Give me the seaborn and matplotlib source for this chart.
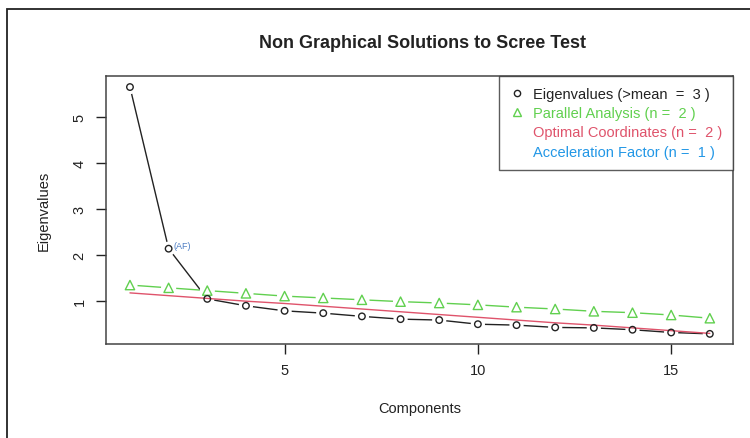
import numpy as np
import pandas as pd
import seaborn as sns
import matplotlib
matplotlib.use("Agg")
import matplotlib.pyplot as plt
from matplotlib.lines import Line2D
from matplotlib.patches import Rectangle

# ---- data ----
components = list(range(1, 17))
eigenvalues = [5.65, 2.14, 1.05, 0.90, 0.79, 0.74, 0.67, 0.61, 0.59, 0.50,
               0.48, 0.43, 0.42, 0.38, 0.32, 0.29]
parallel = [1.35, 1.29, 1.23, 1.17, 1.11, 1.07, 1.03, 0.99, 0.96, 0.92,
            0.87, 0.83, 0.78, 0.75, 0.70, 0.63]
optimal = [1.18, 1.12, 1.06, 1.00, 0.95, 0.89, 0.83, 0.77, 0.71, 0.65,
           0.59, 0.53, 0.48, 0.42, 0.36, 0.30]
legend_labels = ["Eigenvalues (>mean  =  3 )", "Parallel Analysis (n =  2 )",
                 "Optimal Coordinates (n =  2 )", "Acceleration Factor (n =  1 )"]
x_ticks = [5, 10, 15]
y_ticks = [1, 2, 3, 4, 5]
af_label = "(AF)"
af_component = 2

df = pd.DataFrame({"comp": components, "eig": eigenvalues,
                   "par": parallel, "oc": optimal})

sns.set_theme(style="white")
plt.rcParams["font.family"] = ["Liberation Sans", "DejaVu Sans"]

BLACK = "#222222"
GREEN = "#61D04F"
RED = "#DF536B"
BLUE = "#2297E6"

W, H = 750, 439
fig = plt.figure(figsize=(W / 100, H / 100), dpi=100)
L, R, T, B = 106, 733, 77, 345
ax = fig.add_axes([L / W, 1 - B / H, (R - L) / W, (B - T) / H])

# parallel analysis (green, type="b")
sns.lineplot(data=df, x="comp", y="par", color=GREEN, lw=1.0, ax=ax, zorder=2)
sns.scatterplot(data=df, x="comp", y="par", color="white", s=120, marker="o",
                edgecolor="none", ax=ax, zorder=3)
# eigenvalues (black, type="b")
sns.lineplot(data=df, x="comp", y="eig", color=BLACK, lw=1.0, ax=ax, zorder=2.1)
sns.scatterplot(data=df, x="comp", y="eig", color="white", s=105, marker="o",
                edgecolor="none", ax=ax, zorder=3)
# optimal coordinates (red line)
sns.lineplot(data=df, x="comp", y="oc", color=RED, lw=1.0, ax=ax, zorder=3.5)
# markers
sns.scatterplot(data=df, x="comp", y="par", marker="^", s=45,
                facecolor="none", edgecolor=GREEN, linewidth=1.0, ax=ax, zorder=4)
sns.scatterplot(data=df, x="comp", y="eig", marker="o", s=22,
                facecolor="none", edgecolor=BLACK, linewidth=1.0, ax=ax, zorder=4)

# AF annotation
ax.annotate(af_label, xy=(af_component, eigenvalues[af_component - 1]),
            xytext=(3.5, 2), textcoords="offset points", ha="left", va="center",
            fontsize=6.5, color="#4f7fc4", zorder=5)

ax.set_xlim(0.38, 16.6)
ax.set_ylim(0.07, 5.89)
ax.set_xticks(x_ticks)
ax.set_yticks(y_ticks)
ax.tick_params(axis="both", direction="out", length=7, width=1, color=BLACK,
               labelsize=10.5, labelcolor=BLACK, pad=7, bottom=True, left=True)
for lab in ax.get_yticklabels():
    lab.set_rotation(90)
    lab.set_va("center")
for sp in ax.spines.values():
    sp.set_color("#444444")
    sp.set_linewidth(1.1)

ax.set_xlabel("Components", fontsize=10.5, color=BLACK)
ax.set_ylabel("Eigenvalues", fontsize=10.5, color=BLACK)
ax.xaxis.set_label_coords(0.5, -(402 - B) / (B - T))
ax.yaxis.set_label_coords(-(106 - 51) / (R - L), 0.5)

# legend
handles = [
    Line2D([], [], ls="none", marker="o", ms=4.5, mfc="none", mec=BLACK, mew=1),
    Line2D([], [], ls="none", marker="^", ms=6, mfc="none", mec=GREEN, mew=1),
    Line2D([], [], ls="none", marker=None),
    Line2D([], [], ls="none", marker=None),
]
leg = ax.legend(handles, legend_labels, loc="upper right", borderaxespad=0,
                fontsize=10.5, frameon=True, fancybox=False, edgecolor="#333333",
                handlelength=1.0, handletextpad=0.6, labelspacing=0.36,
                borderpad=0.75)
leg.get_frame().set_linewidth(1.0)
for txt, col in zip(leg.get_texts(), [BLACK, GREEN, RED, BLUE]):
    txt.set_color(col)

fig.text(423 / W, 1 - 43 / H, "Non Graphical Solutions to Scree Test",
         ha="center", va="center", fontsize=13, fontweight="bold", color=BLACK)

# outer frame
fig.add_artist(Rectangle((7 / W, -0.1), 1.2, 1 - 10 / H + 0.1,
                         transform=fig.transFigure, fill=False,
                         edgecolor="#222222", lw=1.3))

fig.savefig("out.png", dpi=100)
